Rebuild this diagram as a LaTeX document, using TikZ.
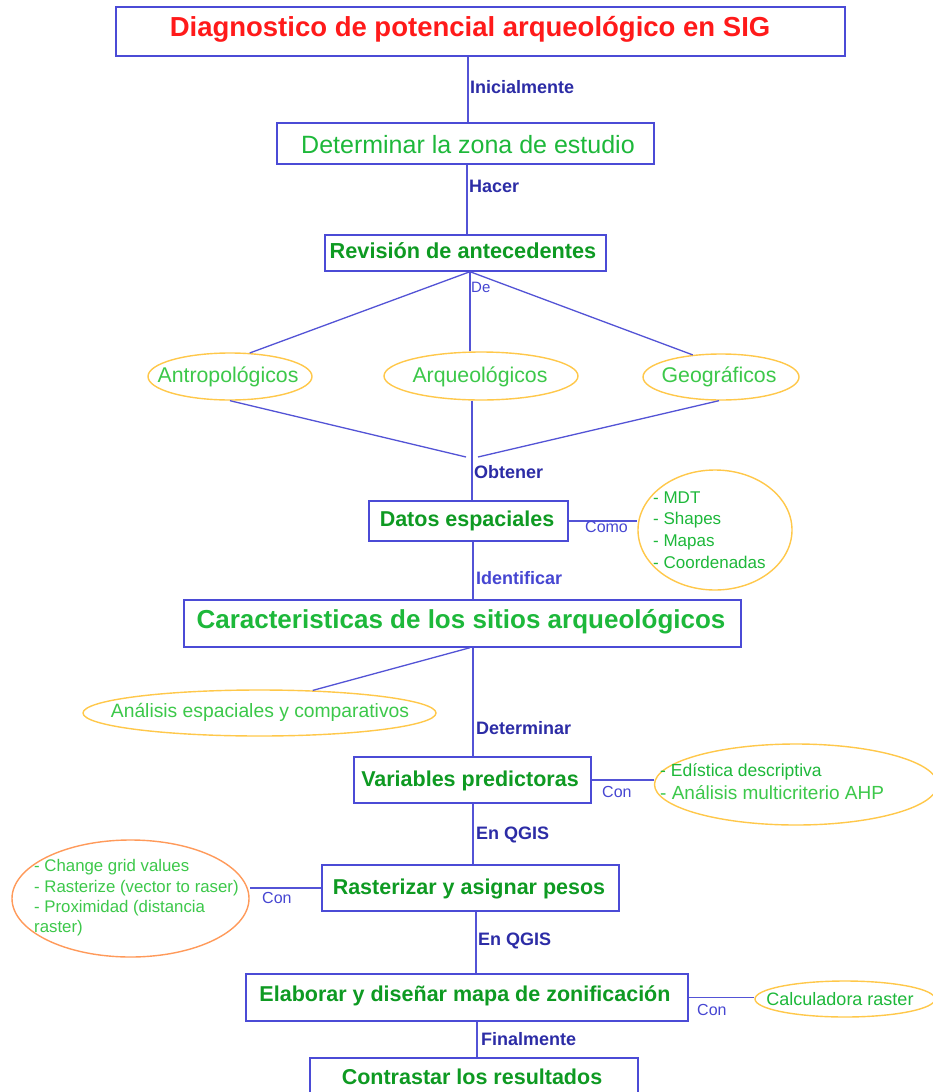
\documentclass[tikz,border=0pt]{standalone}
\usepackage{fontspec}
\setmainfont{Liberation Sans}
\usetikzlibrary{shapes.geometric}
\definecolor{boxc}{HTML}{4B4BD6}
\definecolor{linec}{HTML}{5353D6}
\definecolor{labc}{HTML}{2C2CA6}
\definecolor{labl}{HTML}{4646D2}
\definecolor{titc}{HTML}{FF1A1A}
\definecolor{dkg}{HTML}{0E9A22}
\definecolor{mdg}{HTML}{1DB83A}
\definecolor{ltg}{HTML}{3CC84A}
\definecolor{ellc}{HTML}{FFC84A}
\definecolor{orc}{HTML}{FF9A5A}
\newcommand{\fsz}[2]{\fontsize{#1}{#2}\selectfont}
\begin{document}
\begin{tikzpicture}[x=1pt,y=-1pt,
  box/.style={draw=boxc, line width=1.4pt, inner sep=0pt, rectangle},
  ell/.style={draw=ellc, line width=1.4pt, inner sep=0pt, ellipse},
  ln/.style={draw=linec, line width=1.3pt},
  lab/.style={text=labc, font=\bfseries\fsz{18}{22}, anchor=west, inner sep=0pt},
  labn/.style={text=labl, font=\fsz{16}{19}, anchor=west, inner sep=0pt},
  btxt/.style={text=dkg, font=\bfseries\fsz{21.5}{26}, inner sep=0pt},
  etxt/.style={text=ltg, font=\fsz{21.3}{26}, inner sep=0pt}]
\useasboundingbox (0,0) rectangle (932,1092);
\fill[white] (0,0) rectangle (932,1092);

% spine x coordinates
\coordinate (xa) at (468,0);
\coordinate (xb) at (467,0);
\coordinate (xc) at (470,0);
\coordinate (xd) at (472,0);
\coordinate (xe) at (473,0);
\coordinate (xf) at (476,0);
\coordinate (xg) at (477,0);
\coordinate (jl) at (466,457);
\coordinate (jr) at (478,457);

% boxes
\node[box, minimum width=729pt, minimum height=49pt] (title) at (480.5,31.5) {};
\node[text=titc, font=\bfseries\fsz{27.5}{32}, inner sep=0pt] (titlet) at (470,29) {Diagnostico de potencial arqueológico en SIG};
\node[box, minimum width=377pt, minimum height=41pt] (zona) at (465.5,143.5) {};
\node[text=mdg, font=\fsz{25}{30}, inner sep=0pt] (zonat) at (468,145) {Determinar la zona de estudio};
\node[box, minimum width=281pt, minimum height=36pt] (rev) at (465.5,253) {};
\node[btxt, font=\bfseries\fsz{21.7}{26}] (revt) at (463,251) {Revisión de antecedentes};
\node[box, minimum width=199pt, minimum height=40pt] (datos) at (468.5,521) {};
\node[btxt] (datost) at (467,521) {Datos espaciales};
\node[box, minimum width=557pt, minimum height=47pt] (carac) at (462.5,623.5) {};
\node[btxt, text=mdg, font=\bfseries\fsz{26}{30}] (caract) at (461,622) {Caracteristicas de los sitios arqueológicos};
\node[box, minimum width=237pt, minimum height=46pt] (vars) at (472.5,780) {};
\node[btxt] (varst) at (470,781) {Variables predictoras};
\node[box, minimum width=297pt, minimum height=46pt] (rast) at (470.5,888) {};
\node[btxt] (rastt) at (469,889) {Rasterizar y asignar pesos};
\node[box, minimum width=442pt, minimum height=47pt] (elab) at (467,997.5) {};
\node[btxt] (elabt) at (465,996) {Elaborar y diseñar mapa de zonificación};
\node[box, minimum width=328pt, minimum height=40pt] (contr) at (474,1078) {};
\node[btxt] (contrt) at (472,1077) {Contrastar los resultados};

% ellipses
\node[ell, minimum width=164pt, minimum height=47pt] (antro) at (230,376.5) {};
\node[etxt] (antrot) at (228,377) {Antropológicos};
\node[ell, minimum width=194pt, minimum height=48pt] (arq) at (481,376) {};
\node[etxt] (arqt) at (480,377) {Arqueológicos};
\node[ell, minimum width=156pt, minimum height=46pt] (geo) at (721,377) {};
\node[etxt] (geot) at (719,377) {Geográficos};
\node[ell, minimum width=154pt, minimum height=120pt] (mdt) at (715,530) {};
\node[etxt, text=mdg, font=\fsz{17}{21.7}, align=left, anchor=west] (mdtt) at (653,530) {- MDT\\- Shapes\\- Mapas\\- Coordenadas};
\node[ell, minimum width=353pt, minimum height=46pt] (anal) at (259.5,713) {};
\node[etxt, font=\fsz{19.3}{23}] (analt) at (260,712) {Análisis espaciales y comparativos};
\node[ell, minimum width=283pt, minimum height=81pt] (stat) at (796,784.5) {};
\node[etxt, text=mdg, font=\fsz{17.5}{21}, anchor=west] (stat1) at (660,772) {- Edística descriptiva};
\node[etxt, font=\fsz{19}{23}, anchor=west] (stat2) at (660,793) {- Análisis multicriterio AHP};
\node[ell, draw=orc, minimum width=237pt, minimum height=117pt] (orng) at (130.5,898.5) {};
\node[etxt, font=\fsz{16.8}{20.3}, align=left, anchor=west] (orngt) at (34,898) {- Change grid values\\- Rasterize (vector to raser)\\- Proximidad (distancia\\raster)};
\node[ell, minimum width=180pt, minimum height=36pt] (calc) at (845,999) {};
\node[etxt, text=mdg, font=\fsz{18}{22}] (calct) at (840,999) {Calculadora raster};

% connectors
\draw[ln] (title.south -| xa) -- (zona.north -| xa);
\draw[ln] (zona.south -| xb) -- (rev.north -| xb);
\draw[ln] (rev.south -| xc) -- (antro.50);
\draw[ln] (rev.south -| xc) -- (arq.north -| xc);
\draw[ln] (rev.south -| xc) -- (geo.142);
\draw[ln] (antro.south) -- (jl);
\draw[ln] (geo.-95) -- (jr);
\draw[ln] (arq.south -| xd) -- (datos.north -| xd);
\draw[ln] (datos.east) -- (datos.east -| mdt.west);
\draw[ln] (datos.south -| xe) -- (carac.north -| xe);
\draw[ln] (carac.south -| xc) -- (anal.23.5);
\draw[ln] (carac.south -| xe) -- (vars.north -| xe);
\draw[ln] (vars.east) -- (vars.east -| stat.west);
\draw[ln] (vars.south -| xe) -- (rast.north -| xe);
\draw[ln] (rast.west) -- (rast.west -| orng.east);
\draw[ln] (rast.south -| xf) -- (elab.north -| xf);
\draw[ln] (elab.east) -- (elab.east -| calc.west);
\draw[ln] (elab.south -| xg) -- (contr.north -| xg);

% connector labels
\node[lab] (l1) at (470,87) {Inicialmente};
\node[lab] (l2) at (469,186) {Hacer};
\node[labn, font=\fsz{15}{18}] (l3) at (471,287) {De};
\node[lab] (l4) at (474,472) {Obtener};
\node[labn] (l5) at (585,527) {Como};
\node[lab, text=labl] (l6) at (476,578) {Identificar};
\node[lab] (l7) at (476,728) {Determinar};
\node[labn] (l8) at (602,792) {Con};
\node[lab] (l9) at (476,835) {En QGIS};
\node[labn] (l10) at (262,898) {Con};
\node[lab] (l11) at (478,941) {En QGIS};
\node[labn] (l12) at (697,1010) {Con};
\node[lab] (l13) at (481,1039) {Finalmente};
\end{tikzpicture}
\end{document}
